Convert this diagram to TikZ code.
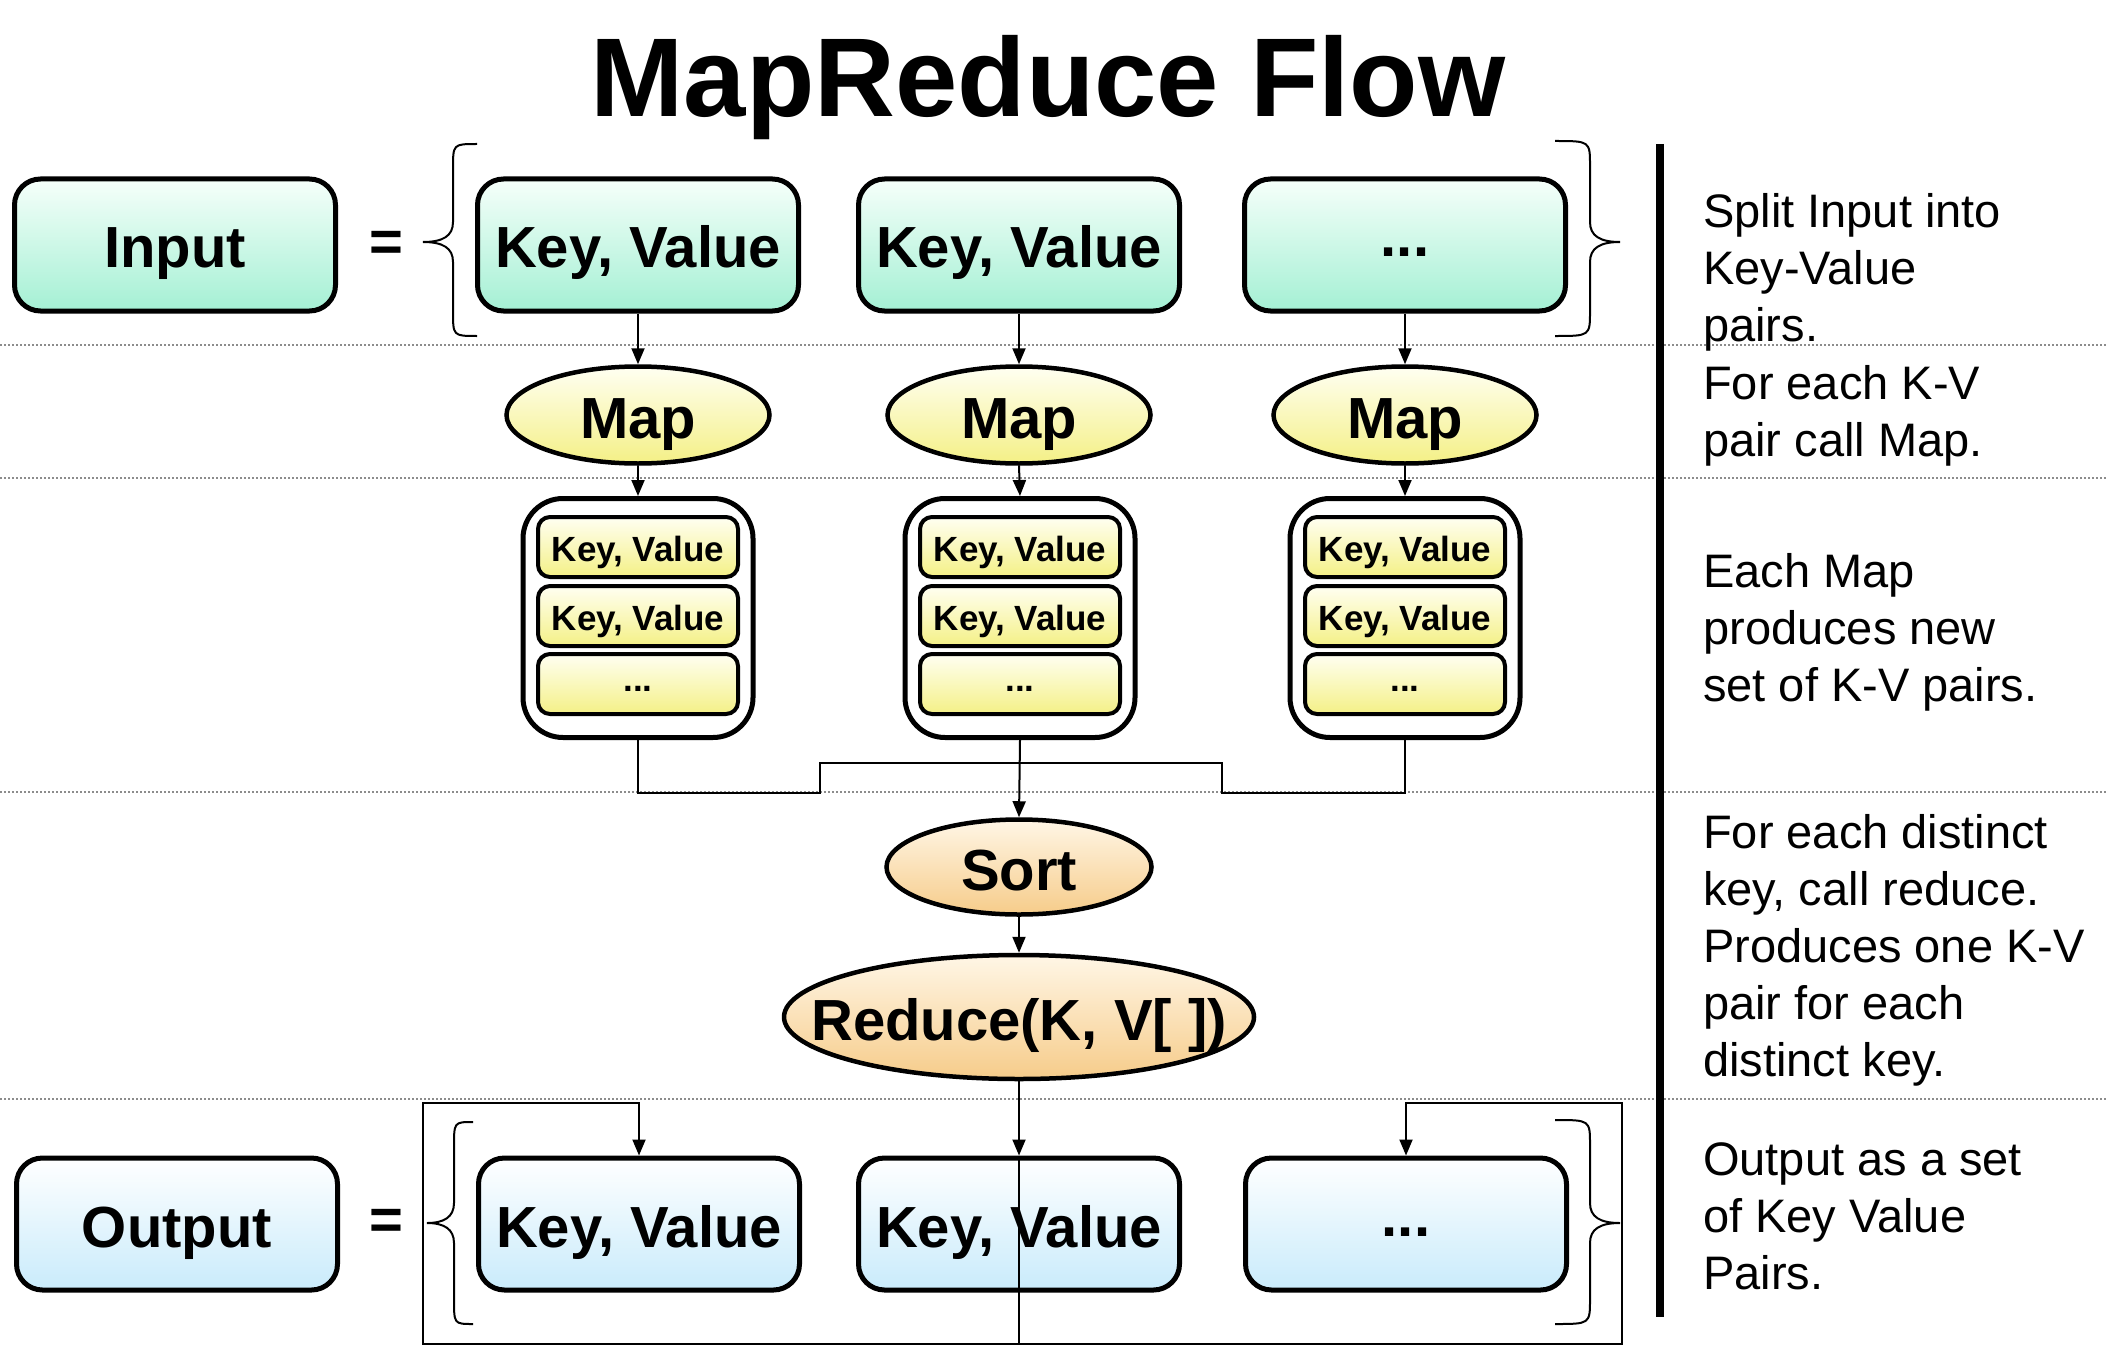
\documentclass[tikz,border=0pt]{standalone}
\usepackage{fontspec}
\setmainfont{Liberation Sans}
\usetikzlibrary{shapes.geometric,arrows.meta}
\definecolor{mintT}{HTML}{F6FFFA}
\definecolor{mintB}{HTML}{A4F0D4}
\definecolor{blueT}{HTML}{FFFFFF}
\definecolor{blueB}{HTML}{C9EBFB}
\definecolor{yelT}{HTML}{FFFFF2}
\definecolor{yelB}{HTML}{F4F086}
\definecolor{oraT}{HTML}{FFF6E6}
\definecolor{oraB}{HTML}{F6CC8A}
\tikzset{
  basebox/.style={draw=black, line width=5pt, inner sep=0pt,
    font=\bfseries\fontsize{58}{66}\selectfont, text height=46pt, text depth=0pt},
  mintbox/.style={basebox, rounded corners=26pt, minimum width=321pt,
    minimum height=132pt, top color=mintT, bottom color=mintB},
  bluebox/.style={basebox, rounded corners=26pt, minimum width=321pt,
    minimum height=132pt, top color=blueT, bottom color=blueB},
  bigdots/.style={text height=24pt, text depth=0pt},
  smalldots/.style={text height=15pt, text depth=0pt},
  mapell/.style={basebox, ellipse, line width=4.5pt, minimum width=263pt,
    minimum height=97pt, top color=yelT, bottom color=yelB},
  oraell/.style={basebox, ellipse, line width=4.5pt, top color=oraT, bottom color=oraB},
  grpbox/.style={draw=black, line width=5pt, rounded corners=40pt, fill=white,
    minimum width=230pt, minimum height=239pt, inner sep=0pt},
  kvsmall/.style={draw=black, line width=4pt, rounded corners=12pt, inner sep=0pt,
    minimum width=200pt, minimum height=60pt, top color=yelT, bottom color=yelB,
    font=\bfseries\fontsize{35}{40}\selectfont, text height=28pt, text depth=0pt},
  arr/.style={-{Triangle[length=16pt,width=13pt]}, line width=2pt},
  ln/.style={line width=2pt},
  brc/.style={line width=2pt},
  note/.style={anchor=base west, inner sep=0pt, font=\fontsize{47}{57}\selectfont},
  eqsign/.style={inner sep=0pt, font=\bfseries\fontsize{58}{66}\selectfont},
  dotl/.style={black!45, line width=1.5pt, dash pattern=on 2pt off 2pt}
}
\begin{document}
\begin{tikzpicture}[x=1pt,y=-1pt]
\useasboundingbox[fill=white] (0,0) rectangle (2108,1356);

% dotted separators
\foreach \yy in {345,478,792,1099}
  \draw[dotl] (0,\yy) -- (2108,\yy);

% title
\node[anchor=base, inner sep=0pt, font=\bfseries\fontsize{112}{130}\selectfont] (title) at (1048,117) {MapReduce Flow};

% vertical divider
\coordinate (vt) at (1660,144);
\coordinate (vb) at (1660,1317);
\draw[line width=8pt] (vt) -- (vb);

% input row
\node[mintbox] (input) at (175,245) {Input};
\node[eqsign] (eq1) at (386,246) {=};
\node[mintbox] (kv1) at (638,245) {Key, Value};
\node[mintbox] (kv2) at (1019,245) {Key, Value};
\node[mintbox, bigdots] (kv3) at (1405,245) {...};

% braces top
\draw[brc] (477,144) .. controls (453,144) and (453,144) .. (453,169) -- (453,222)
  .. controls (453,236) and (443,242) .. (423,242)
  .. controls (443,242) and (453,248) .. (453,262) -- (453,311)
  .. controls (453,336) and (453,336) .. (477,336);
\draw[brc] (1555,141) .. controls (1590,141) and (1590,141) .. (1590,166) -- (1590,222)
  .. controls (1590,236) and (1600,242) .. (1620,242)
  .. controls (1600,242) and (1590,248) .. (1590,262) -- (1590,311)
  .. controls (1590,336) and (1590,336) .. (1555,336);

% map
\node[mapell] (m1) at (638,415) {Map};
\node[mapell] (m2) at (1019,415) {Map};
\node[mapell] (m3) at (1405,415) {Map};

\draw[arr] (kv1.south) -- (m1.north);
\draw[arr] (kv2.south) -- (m2.north);
\draw[arr] (kv3.south) -- (m3.north);

% groups
\node[grpbox] (g1) at (638,618) {};
\node[grpbox] (g2) at (1020,618) {};
\node[grpbox] (g3) at (1405,618) {};
\foreach \g/\xx in {1/638,2/1020,3/1405}{
  \node[kvsmall] (a\g) at (\xx,547) {Key, Value};
  \node[kvsmall] (b\g) at (\xx,616) {Key, Value};
  \node[kvsmall, smalldots] (c\g) at (\xx,684) {...};
}
\draw[arr] (m1.south) -- (g1.north);
\draw[arr] (m2.south) -- (g2.north);
\draw[arr] (m3.south) -- (g3.north);

% sort & reduce
\node[oraell, minimum width=265pt, minimum height=95pt] (sort) at (1019,867) {Sort};
\node[oraell, minimum width=470pt, minimum height=124pt] (red) at (1019,1017) {\makebox[0pt]{Reduce(K, V[ ])}};

\coordinate (s1) at (820,793);
\coordinate (s2) at (820,763);
\coordinate (s3) at (1222,763);
\coordinate (s4) at (1222,793);
\draw[ln] (g1.south) |- (s1) -- (s2) -- (s3) -- (s4) -| (g3.south);
\draw[arr] (g2.south) -- (sort.north);
\draw[arr] (sort.south) -- (red.north);

% output row
\node[bluebox] (output) at (177,1224) {Output};
\node[eqsign] (eq2) at (386,1224) {=};
\node[bluebox] (o1) at (639,1224) {Key, Value};
\node[bluebox] (o2) at (1019,1224) {Key, Value};
\node[bluebox, bigdots] (o3) at (1406,1224) {...};

\draw[brc] (473,1122) .. controls (454,1122) and (454,1122) .. (454,1147) -- (454,1203)
  .. controls (454,1217) and (444,1223) .. (427,1223)
  .. controls (444,1223) and (454,1229) .. (454,1243) -- (454,1299)
  .. controls (454,1324) and (454,1324) .. (473,1324);
\draw[brc] (1555,1120) .. controls (1590,1120) and (1590,1120) .. (1590,1145) -- (1590,1203)
  .. controls (1590,1217) and (1600,1223) .. (1620,1223)
  .. controls (1600,1223) and (1590,1229) .. (1590,1243) -- (1590,1299)
  .. controls (1590,1324) and (1590,1324) .. (1555,1324);

\coordinate (fbl) at (423,1344);
\coordinate (ftl) at (423,1103);
\coordinate (fbr) at (1622,1344);
\coordinate (ftr) at (1622,1103);
\coordinate (fbm) at (1019,1344);
\draw[arr] (red.south) -- (o2.north);
\draw[ln] (o2.north) -- (fbm);
\draw[arr] (fbm) -- (fbl) -- (ftl) -| (o1.north);
\draw[arr] (fbm) -- (fbr) -- (ftr) -| (o3.north);

% notes
\node[note] (n1) at (1703,228) {\begin{tabular}[t]{@{}l@{}}Split Input into\\Key-Value\\pairs.\end{tabular}};
\node[note] (n2) at (1703,399) {\begin{tabular}[t]{@{}l@{}}For each K-V\\pair call Map.\end{tabular}};
\node[note] (n3) at (1703,587) {\begin{tabular}[t]{@{}l@{}}Each Map\\produces new\\set of K-V pairs.\end{tabular}};
\node[note] (n4) at (1703,848) {\begin{tabular}[t]{@{}l@{}}For each distinct\\key, call reduce.\\Produces one K-V\\pair for each\\distinct key.\end{tabular}};
\node[note] (n5) at (1703,1175) {\begin{tabular}[t]{@{}l@{}}Output as a set\\of Key Value\\Pairs.\end{tabular}};
\end{tikzpicture}
\end{document}
